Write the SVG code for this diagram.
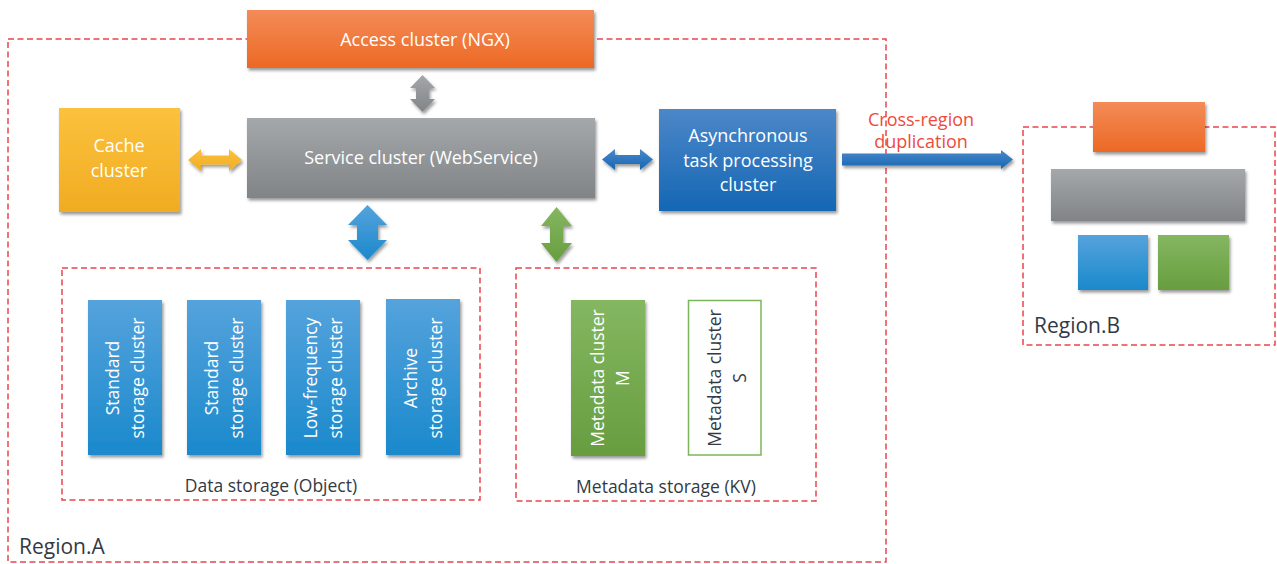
<svg xmlns="http://www.w3.org/2000/svg" width="1277" height="564" viewBox="0 0 1277 564">
<defs>
<linearGradient id="gOr" x1="0" y1="0" x2="0" y2="1"><stop offset="0" stop-color="#f48b58"/><stop offset="1" stop-color="#ec6924"/></linearGradient>
<linearGradient id="gGr" x1="0" y1="0" x2="0" y2="1"><stop offset="0" stop-color="#a5a8ab"/><stop offset="1" stop-color="#818487"/></linearGradient>
<linearGradient id="gYe" x1="0" y1="0" x2="0" y2="1"><stop offset="0" stop-color="#fcc13d"/><stop offset="1" stop-color="#f0ac22"/></linearGradient>
<linearGradient id="gBl" x1="0" y1="0" x2="0" y2="1"><stop offset="0" stop-color="#4c87c8"/><stop offset="1" stop-color="#1467b4"/></linearGradient>
<linearGradient id="gLb" x1="0" y1="0" x2="0" y2="1"><stop offset="0" stop-color="#55a3dc"/><stop offset="1" stop-color="#1a89cc"/></linearGradient>
<linearGradient id="gGn" x1="0" y1="0" x2="0" y2="1"><stop offset="0" stop-color="#84b760"/><stop offset="1" stop-color="#689d40"/></linearGradient>
<filter id="sh" x="-10%" y="-10%" width="130%" height="130%"><feDropShadow dx="1.5" dy="2.5" stdDeviation="1.5" flood-color="#000" flood-opacity="0.4"/></filter>
</defs>
<style>
.reg{fill:none;stroke:#e8454d;stroke-width:1.5;stroke-dasharray:6 3.5}
.t{font-family:"Open Sans","Noto Sans",sans-serif;font-size:18px;fill:#fff;text-anchor:middle}
.v{font-size:17.5px}
.d{font-family:"Open Sans","Noto Sans",sans-serif;font-size:17.5px;fill:#333a44;text-anchor:middle}
.rl{font-family:"Open Sans","Noto Sans",sans-serif;font-size:21px;fill:#333a44}
.red{font-family:"Open Sans","Noto Sans",sans-serif;font-size:18px;fill:#f04a3c;text-anchor:middle}
</style>
<rect width="1277" height="564" fill="#fff"/>

<g id="regionA">
<rect class="reg" x="8" y="39" width="878" height="523"/>
<text class="rl" x="19" y="554">Region.A</text>
</g>
<g id="regionB">
<rect class="reg" x="1023" y="127" width="252" height="218"/>
<text class="rl" x="1034" y="333">Region.B</text>
</g>
<g id="dataStorage">
<rect class="reg" x="62" y="268" width="418" height="232"/>
<text class="d" x="271" y="492">Data storage (Object)</text>
</g>
<g id="metaStorage">
<rect class="reg" x="516" y="268" width="300" height="233"/>
<text class="d" x="666" y="493">Metadata storage (KV)</text>
</g>

<g id="access"><rect x="247" y="10" width="347" height="58" fill="url(#gOr)" filter="url(#sh)"/><text class="t" x="425" y="46">Access cluster (NGX)</text></g>
<g id="service"><rect x="247" y="118" width="348" height="80" fill="url(#gGr)" filter="url(#sh)"/><text class="t" x="421" y="164">Service cluster (WebService)</text></g>
<g id="cache"><rect x="59" y="108" width="121" height="104" fill="url(#gYe)" filter="url(#sh)"/><text class="t" x="119" y="152">Cache</text><text class="t" x="119" y="177">cluster</text></g>
<g id="async"><rect x="659" y="109" width="177" height="102" fill="url(#gBl)" filter="url(#sh)"/><text class="t" x="748" y="142">Asynchronous</text><text class="t" x="748" y="167">task processing</text><text class="t" x="748" y="191">cluster</text></g>

<g id="std1"><rect x="88" y="300" width="74" height="155" fill="url(#gLb)" filter="url(#sh)"/><text class="t v" transform="translate(125,378) rotate(-90)"><tspan x="0" y="-6">Standard</tspan><tspan x="0" y="19">storage cluster</tspan></text></g>
<g id="std2"><rect x="187" y="300" width="74" height="155" fill="url(#gLb)" filter="url(#sh)"/><text class="t v" transform="translate(224,378) rotate(-90)"><tspan x="0" y="-6">Standard</tspan><tspan x="0" y="19">storage cluster</tspan></text></g>
<g id="lowfreq"><rect x="286" y="300" width="74" height="155" fill="url(#gLb)" filter="url(#sh)"/><text class="t v" transform="translate(323,378) rotate(-90)"><tspan x="0" y="-6">Low-frequency</tspan><tspan x="0" y="19">storage cluster</tspan></text></g>
<g id="archive"><rect x="386" y="299" width="74" height="156" fill="url(#gLb)" filter="url(#sh)"/><text class="t v" transform="translate(423,378) rotate(-90)"><tspan x="0" y="-6">Archive</tspan><tspan x="0" y="19">storage cluster</tspan></text></g>

<g id="metaM"><rect x="571" y="300" width="74" height="156" fill="url(#gGn)" filter="url(#sh)"/><text class="t v" transform="translate(608,378) rotate(-90)"><tspan x="0" y="-4.5">Metadata cluster</tspan><tspan x="0" y="20.5">M</tspan></text></g>
<g id="metaS"><rect x="688.5" y="300.5" width="72.5" height="154.5" fill="#fff" stroke="#7db55a" stroke-width="1.5"/><text class="d" transform="translate(724.5,378) rotate(-90)"><tspan x="0" y="-3.5">Metadata cluster</tspan><tspan x="0" y="21.5">S</tspan></text></g>

<g id="regionBnodes">
<rect x="1093" y="102" width="112" height="50" fill="url(#gOr)" filter="url(#sh)"/>
<rect x="1051" y="169" width="194" height="52" fill="url(#gGr)" filter="url(#sh)"/>
<rect x="1078" y="235" width="70" height="55" fill="url(#gLb)" filter="url(#sh)"/>
<rect x="1158" y="235" width="71" height="55" fill="url(#gGn)" filter="url(#sh)"/>
</g>

<g id="connectors" filter="url(#sh)">
<path d="M422.5,75 L435,88 L429,88 L429,99 L435,99 L422.5,112 L410,99 L416,99 L416,88 L410,88 Z" fill="url(#gGr)"/>
<path d="M188,160 L201,149 L201,155.5 L229,155.5 L229,149 L242,160 L229,171 L229,164.5 L201,164.5 L201,171 Z" fill="url(#gYe)"/>
<path d="M602,159.5 L615,149 L615,155 L640,155 L640,149 L653,159.5 L640,170 L640,164 L615,164 L615,170 Z" fill="url(#gBl)"/>
<path d="M842,153.5 L1001,153.5 L1001,150 L1013,159.5 L1001,169 L1001,165.5 L842,165.5 Z" fill="url(#gBl)"/>
<path d="M367.5,205 L387,225 L378,225 L378,240 L387,240 L367.5,260 L348,240 L357,240 L357,225 L348,225 Z" fill="url(#gLb)"/>
<path d="M556.5,207 L572,226 L563,226 L563,243 L572,243 L556.5,262 L541,243 L550,243 L550,226 L541,226 Z" fill="url(#gGn)"/>
</g>
<g id="crossLabel">
<text class="red" x="921" y="126">Cross-region</text>
<text class="red" x="921" y="148">duplication</text>
</g>
</svg>
